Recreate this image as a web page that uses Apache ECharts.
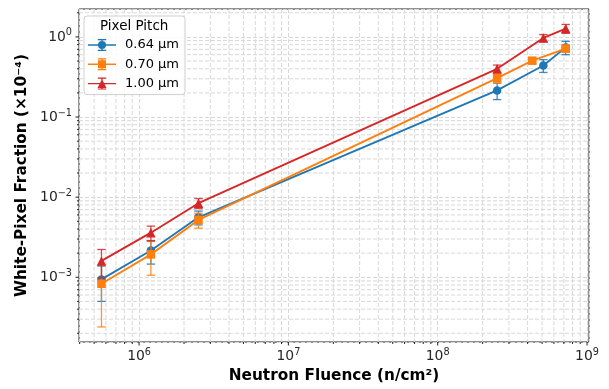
<!DOCTYPE html>
<html>
<head>
<meta charset="utf-8">
<script src="https://cdn.jsdelivr.net/npm/echarts@6/dist/echarts.min.js"></script>
<style>
  html, body {margin: 0; padding: 0; background: #fff;}
  #chart {width: 609px; height: 389px;}
</style>
</head>
<body>
<div id="chart"></div>
<script>
// data
const seriesNames = ['0.64 µm', '0.70 µm', '1.00 µm'];
const fluence064 = [5.6e5, 1.2e6, 2.5e6, 2.5e8, 5.1e8, 7.2e8];
const fraction064 = [9.4e-4, 2.16e-3, 5.6e-3, 0.215, 0.44, 0.74];
const error064 = [4.4e-4, 7.0e-4, 1.1e-3, 0.05, 0.08, 0.14];
const fluence070 = [5.6e5, 1.2e6, 2.5e6, 2.5e8, 4.3e8, 7.2e8];
const fraction070 = [8.3e-4, 1.93e-3, 5.2e-3, 0.305, 0.505, 0.715];
const error070 = [5.9e-4, 8.7e-4, 1.1e-3, 0.04, 0.04, 0.07];
const fluence100 = [5.6e5, 1.2e6, 2.5e6, 2.5e8, 5.1e8, 7.2e8];
const fraction100 = [1.6e-3, 3.6e-3, 8.4e-3, 0.40, 0.97, 1.27];
const error100 = [6.2e-4, 7.5e-4, 1.2e-3, 0.045, 0.1, 0.16];

const xMajorTicks = [1e6, 1e7, 1e8, 1e9];
const yMajorTicks = [1e-3, 1e-2, 1e-1, 1e0];

const X_MIN = 3.96e5, X_MAX = 1.031e9;
const Y_MIN = 1.556e-4, Y_MAX = 2.23;

const colors = ['#1f77b4', '#ff7f0e', '#d62728'];
const symbols = ['circle', 'rect', 'triangle'];
const symbolSizes = [8.5, 8.5, 9.5];

// minor ticks of a log axis: 2..9 x 10^k inside the range
function minorTicks(lo, hi) {
  const out = [];
  for (let k = Math.floor(Math.log10(lo)); k <= Math.ceil(Math.log10(hi)); k++) {
    for (let m = 2; m <= 9; m++) {
      const v = m * Math.pow(10, k);
      if (v >= lo && v <= hi) out.push(v);
    }
  }
  return out;
}
const xMinorTicks = minorTicks(X_MIN, X_MAX);
const yMinorTicks = minorTicks(Y_MIN, Y_MAX);

const gridLineStyle = {stroke: '#d8d8d8', lineWidth: 1, lineDash: [4, 2], fill: null};
const tickStyle = {stroke: '#222', lineWidth: 1, fill: null};

function powLabel(value) {
  const lg = Math.log10(value);
  const e = Math.round(lg);
  if (Math.abs(lg - e) > 1e-6) return '';
  return '{b|10}{s|' + String(e).replace('-', '\u2212') + '}';
}
const labelRich = {
  b: {fontSize: 13.9, fontFamily: 'DejaVu Sans', color: '#262626'},
  s: {fontSize: 9.7, fontFamily: 'DejaVu Sans', color: '#262626', padding: [0, 0, 8, 0]}
};

// legend icon: line + errorbar + marker
const barPart = 'M0 5.3H28V6.7H0Z M13.3 0H14.7V12H13.3Z M9.8 0H18.2V1.2H9.8Z M9.8 10.8H18.2V12H9.8Z ';
const legendIcons = [
  'path://' + barPart + 'M18 6A4 4 0 1 1 10 6A4 4 0 1 1 18 6Z',
  'path://' + barPart + 'M10 2H18V10H10Z',
  'path://' + barPart + 'M14 1.5L18.5 10.5H9.5Z'
];

function axisDecor(kind, values, len) {
  return {
    type: 'custom',
    silent: true,
    z: kind === 'grid' ? 1 : 10,
    clip: false,
    data: values,
    renderItem: (params, api) => {
      const cs = params.coordSys;
      const isX = api.value(1) === 1;
      const children = [];
      if (isX) {
        const px = api.coord([api.value(0), 1])[0];
        if (kind === 'grid') {
          children.push({type: 'line', shape: {x1: px, y1: cs.y, x2: px, y2: cs.y + cs.height}, style: gridLineStyle});
        } else {
          children.push({type: 'line', shape: {x1: px, y1: cs.y + cs.height, x2: px, y2: cs.y + cs.height + len}, style: tickStyle});
        }
      } else {
        const py = api.coord([1e7, api.value(2)])[1];
        if (kind === 'grid') {
          children.push({type: 'line', shape: {x1: cs.x, y1: py, x2: cs.x + cs.width, y2: py}, style: gridLineStyle});
        } else {
          children.push({type: 'line', shape: {x1: cs.x - len, y1: py, x2: cs.x, y2: py}, style: tickStyle});
        }
      }
      return {type: 'group', children};
    }
  };
}
function decorData(xs, ys) {
  return xs.map(v => [v, 1, 1]).concat(ys.map(v => [1e7, 0, v]));
}

function errorSeries(name, xs, ys, es, color, z) {
  return {
    type: 'custom',
    name: name,
    silent: true,
    z: z,
    data: xs.map((x, i) => [x, ys[i], es[i]]),
    encode: {x: 0, y: 1},
    renderItem: (params, api) => {
      const x = api.value(0), y = api.value(1), e = api.value(2);
      const top = api.coord([x, y + e]);
      const bot = api.coord([x, y - e]);
      const st = {stroke: color, lineWidth: 1.3, fill: null, opacity: 0.85};
      return {type: 'group', children: [
        {type: 'line', shape: {x1: top[0], y1: top[1], x2: bot[0], y2: bot[1]}, style: st},
        {type: 'line', shape: {x1: top[0] - 4.2, y1: top[1], x2: top[0] + 4.2, y2: top[1]}, style: st},
        {type: 'line', shape: {x1: bot[0] - 4.2, y1: bot[1], x2: bot[0] + 4.2, y2: bot[1]}, style: st}
      ]};
    }
  };
}

function lineSeries(i, xs, ys) {
  return {
    type: 'line',
    name: seriesNames[i],
    z: 4 + i * 2,
    data: xs.map((x, k) => [x, ys[k]]),
    symbol: symbols[i],
    symbolSize: symbolSizes[i],
    showAllSymbol: true,
    itemStyle: {color: colors[i]},
    lineStyle: {color: colors[i], width: 1.9},
    emphasis: {disabled: true}
  };
}

const chart = echarts.init(document.getElementById('chart'), null, {renderer: 'canvas'});
chart.setOption({
  animation: false,
  textStyle: {fontFamily: 'DejaVu Sans'},
  grid: {left: 79, top: 9, right: 20, bottom: 46, show: true, borderColor: '#222', borderWidth: 1, backgroundColor: 'transparent'},
  xAxis: {
    type: 'log', logBase: 10, min: X_MIN, max: X_MAX,
    name: 'Neutron Fluence (n/cm²)', nameLocation: 'middle', nameGap: 27,
    nameTextStyle: {fontSize: 15.3, fontWeight: 'bold', color: '#000', fontFamily: 'DejaVu Sans'},
    axisLine: {show: false},
    axisTick: {show: false},
    axisLabel: {formatter: powLabel, rich: labelRich, margin: 5, showMinLabel: false, showMaxLabel: false},
    splitLine: {show: true, lineStyle: {color: '#d8d8d8', type: [4, 2], width: 1}},
    minorTick: {show: false}
  },
  yAxis: {
    type: 'log', logBase: 10, min: Y_MIN, max: Y_MAX,
    name: 'White-Pixel Fraction (×10⁻⁴)', nameLocation: 'middle', nameGap: 47,
    nameTextStyle: {fontSize: 15.3, fontWeight: 'bold', color: '#000', fontFamily: 'DejaVu Sans'},
    axisLine: {show: false},
    axisTick: {show: false},
    axisLabel: {formatter: powLabel, rich: labelRich, margin: 7, showMinLabel: false, showMaxLabel: false},
    splitLine: {show: true, lineStyle: {color: '#d8d8d8', type: [4, 2], width: 1}},
    minorTick: {show: false}
  },
  legend: {
    orient: 'vertical', left: 84, top: 16, z: 20,
    padding: [22, 6, 4, 4],
    itemWidth: 28, itemHeight: 12, itemGap: 5.3,
    backgroundColor: 'rgba(255,255,255,0.85)', borderColor: '#cfcfcf', borderWidth: 1, borderRadius: 3,
    textStyle: {fontSize: 13, fontFamily: 'DejaVu Sans', color: '#000', lineHeight: 14, padding: [0, 0, 0, 4]},
    selectedMode: false,
    data: seriesNames.map((n, i) => ({name: n, icon: legendIcons[i]}))
  },
  graphic: [{
    type: 'text', left: 100, top: 19, z: 30,
    style: {text: 'Pixel Pitch', fontSize: 13.5, fontFamily: 'DejaVu Sans', fill: '#000'}
  }],
  series: [
    Object.assign(axisDecor('grid', decorData(xMinorTicks, yMinorTicks), 0), {name: 'minor-grid'}),
    Object.assign(axisDecor('tick', decorData(xMinorTicks, yMinorTicks), 2), {name: 'minor-ticks'}),
    Object.assign(axisDecor('tick', decorData(xMajorTicks, yMajorTicks), 3.5), {name: 'major-ticks'}),
    errorSeries('err-0.64', fluence064, fraction064, error064, colors[0], 3),
    lineSeries(0, fluence064, fraction064),
    errorSeries('err-0.70', fluence070, fraction070, error070, colors[1], 5),
    lineSeries(1, fluence070, fraction070),
    errorSeries('err-1.00', fluence100, fraction100, error100, colors[2], 7),
    lineSeries(2, fluence100, fraction100)
  ]
});
</script>
</body>
</html>
